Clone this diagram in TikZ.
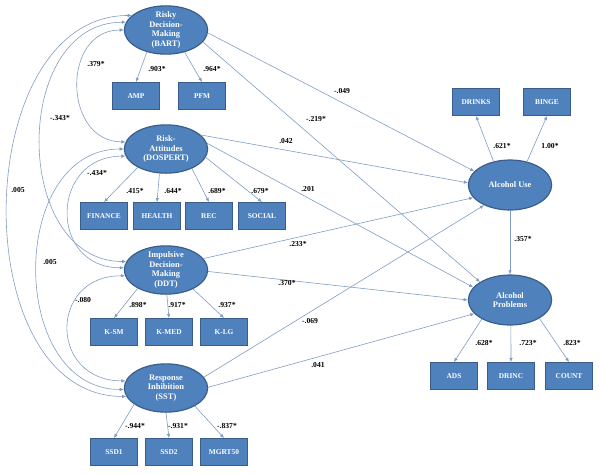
\documentclass[tikz,border=0pt]{standalone}
\usepackage{fontspec}
\setmainfont{Liberation Serif}
\usepackage{tikz}
\usetikzlibrary{arrows.meta, shapes.geometric}
\definecolor{semfill}{HTML}{4F81BD}
\definecolor{semdraw}{HTML}{385D8A}
\definecolor{semline}{RGB}{125,155,195}
\tikzset{
    latent/.style={ellipse, draw=semdraw, fill=semfill, line width=1pt, minimum width=2.5cm, minimum height=1.45cm, inner xsep=0pt, inner ysep=-2pt, text=white, align=center, font=\bfseries\fontsize{7.2}{8.2}\selectfont},
    manifest/.style={rectangle, draw=semdraw, fill=semfill, line width=0.8pt, minimum width=1.41cm, minimum height=0.81cm, inner sep=0pt, text=white, font=\bfseries\fontsize{6.3}{7}\selectfont},
    link/.style={-{Latex[length=3.5pt,width=3pt]}, semline, line width=0.5pt},
    covar/.style={{Latex[length=3.5pt,width=3pt]}-{Latex[length=3.5pt,width=3pt]}, semline, line width=0.5pt},
    coef/.style={font=\bfseries\fontsize{6.5}{7}\selectfont, inner sep=0pt}
}

\begin{document}
\begin{tikzpicture}[x=0.03cm, y=-0.03cm]
    \useasboundingbox (0,0) rectangle (600,473);
    % latent factors
    \node (bart) [latent] at (166,30) {Risky\\Decision-\\Making\\(BART)};
    \node (dospert) [latent] at (166,149) {Risk-\\Attitudes\\(DOSPERT)};
    \node (ddt) [latent] at (166,270) {Impulsive\\Decision-\\Making\\(DDT)};
    \node (sst) [latent] at (166,388) {Response\\Inhibition\\(SST)};
    \node (au) [latent, minimum height=1.5cm] at (510,185) {Alcohol Use};
    \node (ap) [latent, minimum height=1.5cm] at (510,300) {Alcohol\\Problems};

    % indicators
    \node (amp) [manifest] at (136,96) {AMP};
    \node (pfm) [manifest] at (202,96) {PFM};
    \node (finance) [manifest] at (104,216) {FINANCE};
    \node (health) [manifest] at (157,216) {HEALTH};
    \node (rec) [manifest] at (209,216) {REC};
    \node (social) [manifest] at (262,216) {SOCIAL};
    \node (ksm) [manifest] at (114,332) {K-SM};
    \node (kmed) [manifest] at (169,332) {K-MED};
    \node (klg) [manifest] at (224,332) {K-LG};
    \node (ssd1) [manifest] at (114,452) {SSD1};
    \node (ssd2) [manifest] at (169,452) {SSD2};
    \node (mgrt) [manifest] at (224,452) {MGRT50};
    \node (drinks) [manifest] at (476,102) {DRINKS};
    \node (binge) [manifest] at (547,102) {BINGE};
    \node (ads) [manifest] at (454,376) {ADS};
    \node (drinc) [manifest] at (511,376) {DRINC};
    \node (count) [manifest] at (569,376) {COUNT};

    % loadings
    \draw[link] (bart.229) -- (amp.north);
    \draw[link] (bart.310) -- (pfm.north);
    \draw[link] (dospert.213) -- (finance.north);
    \draw[link] (dospert.255) -- (health.north);
    \draw[link] (dospert.323) -- (rec.north);
    \draw[link] (dospert.348) -- (social.north);
    \draw[link] (ddt.213) -- (ksm.north);
    \draw[link] (ddt.272) -- (kmed.north);
    \draw[link] (ddt.325) -- (klg.north);
    \draw[link] (sst.207) -- (ssd1.north);
    \draw[link] (sst.270) -- (ssd2.north);
    \draw[link] (sst.328) -- (mgrt.north);
    \draw[link] (au.125) -- (drinks.south);
    \draw[link] (au.54) -- (binge.south);
    \draw[link] (ap.214) -- (ads.north);
    \draw[link] (ap.272) -- (drinc.north);
    \draw[link] (ap.328) -- (count.north);

    % structural paths
    \draw[link] (bart.356) -- (au.159);
    \draw[link] (bart.342) -- (ap.149);
    \draw[link] (dospert.22) -- (au.177);
    \draw[link] (dospert.8) -- (ap.161);
    \draw[link] (ddt.17) -- (au.199);
    \draw[link] (ddt.358) -- (ap.180);
    \draw[link] (sst.16) -- (au.218);
    \draw[link] (sst.1) -- (ap.201);
    \draw[link] (au) -- (ap);

    % covariances
    \draw[covar] (bart.157) to[out=180, in=180, looseness=1.09] (sst.192);
    \draw[covar] (bart.169) to[out=180, in=180, looseness=1.23] (ddt.168);
    \draw[covar] (bart.180) to[out=180, in=180, looseness=1.43] (dospert.170);
    \draw[covar] (dospert.180) to[out=180, in=180, looseness=1.24] (sst.182);
    \draw[covar] (dospert.190) to[out=180, in=180, looseness=1.73] (ddt.177);
    \draw[covar] (ddt.188) to[out=180, in=180, looseness=1.86] (sst.170);

    % coefficients
    \node (c-amp) [coef] at (157,69) {.903*};
    \node (c-pfm) [coef] at (212,69) {.964*};
    \node (c-fin) [coef] at (135,191) {.415*};
    \node (c-hea) [coef] at (173,191) {.644*};
    \node (c-rec) [coef] at (217,191) {.689*};
    \node (c-soc) [coef] at (260,191) {.679*};
    \node (c-ksm) [coef] at (138,305) {.898*};
    \node (c-kmed) [coef] at (177,305) {.917*};
    \node (c-klg) [coef] at (227,305) {.937*};
    \node (c-ssd1) [coef] at (135,426) {-.944*};
    \node (c-ssd2) [coef] at (178,426) {-.931*};
    \node (c-mgrt) [coef] at (227,426) {-.837*};
    \node (c-dri) [coef] at (502,146) {.621*};
    \node (c-bin) [coef] at (550,146) {1.00*};
    \node (c-ads) [coef] at (484,343) {.628*};
    \node (c-drc) [coef] at (528,343) {.723*};
    \node (c-cnt) [coef] at (572,343) {.823*};
    \node (c-auap) [coef] at (523,239) {.357*};
    \node (c-bau) [coef] at (342,91) {-.049};
    \node (c-bap) [coef] at (316,119) {-.219*};
    \node (c-dau) [coef] at (286,141) {.042};
    \node (c-dap) [coef] at (308,189) {.201};
    \node (c-iau) [coef] at (298,244) {.233*};
    \node (c-iap) [coef] at (287,283) {.370*};
    \node (c-sau) [coef] at (310,321) {-.069};
    \node (c-sap) [coef] at (318,365) {.041};
    \node (c-bd) [coef] at (96,64) {.379*};
    \node (c-bi) [coef] at (60,118) {-.343*};
    \node (c-bs) [coef] at (18,190) {.005};
    \node (c-di) [coef] at (97,173) {-.434*};
    \node (c-ds) [coef] at (50,262) {.005};
    \node (c-is) [coef] at (83,300) {-.080};
\end{tikzpicture}
\end{document}
